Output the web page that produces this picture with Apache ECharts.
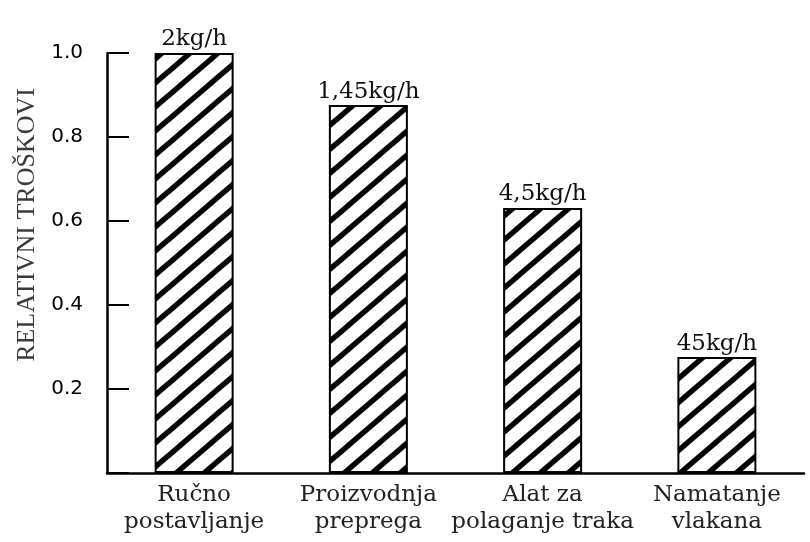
<!DOCTYPE html>
<html>
<head>
<meta charset="utf-8">
<script src="https://cdn.jsdelivr.net/npm/echarts@6/dist/echarts.min.js"></script>
<style>
html,body{margin:0;padding:0;background:#fff;}
#chart{width:810px;height:542px;}
</style>
</head>
<body>
<div id="chart"></div>
<script>
var categories = ['Ručno\npostavljanje', 'Proizvodnja\npreprega', 'Alat za\npolaganje traka', 'Namatanje\nvlakana'];
var values = [1.0, 0.876, 0.631, 0.276];
var barLabels = ['2kg/h', '1,45kg/h', '4,5kg/h', '45kg/h'];
var yTicks = [0, 0.2, 0.4, 0.6, 0.8, 1.0];

function hatch() {
  var W = 28, H = 24;
  var c = document.createElement('canvas');
  c.width = W; c.height = H;
  var g = c.getContext('2d');
  g.fillStyle = '#fff';
  g.fillRect(0, 0, W, H);
  g.strokeStyle = '#000';
  g.lineWidth = 5.5;
  for (var k = -1; k <= 1; k++) {
    g.beginPath();
    g.moveTo(-W, 2 * H + k * H);
    g.lineTo(2 * W, -H + k * H);
    g.stroke();
  }
  return c;
}

var chart = echarts.init(document.getElementById('chart'), null, {renderer: 'canvas'});
chart.setOption({
  backgroundColor: '#fff',
  animation: false,
  grid: {left: 107, right: 6, top: 53, bottom: 69},
  xAxis: {
    type: 'category',
    data: categories,
    axisLine: {lineStyle: {color: '#000', width: 2.5}},
    axisTick: {show: false},
    axisLabel: {
      interval: 0, margin: 9,
      fontFamily: 'DejaVu Serif', fontSize: 23, lineHeight: 27, color: '#222'
    }
  },
  yAxis: {
    type: 'value',
    min: yTicks[0], max: yTicks[yTicks.length - 1], interval: 0.2,
    name: 'RELATIVNI TROŠKOVI',
    nameLocation: 'middle', nameRotate: 90, nameGap: 67,
    nameTextStyle: {fontFamily: 'Liberation Serif', fontSize: 26, color: '#3a3a3a', padding: [0, 0, 0, 76]},
    splitLine: {show: false},
    axisLine: {show: true, lineStyle: {color: '#000', width: 2.5}},
    axisTick: {show: true, inside: true, length: 22, lineStyle: {color: '#000', width: 2}},
    axisLabel: {
      margin: 24, fontFamily: 'DejaVu Sans', fontSize: 20, color: '#000',
      formatter: function (v) { return v === 0 ? '' : v.toFixed(1); }
    }
  },
  series: [{
    type: 'bar',
    data: values,
    barWidth: 79,
    itemStyle: {color: {image: hatch(), repeat: 'repeat'}, borderColor: '#000', borderWidth: 2},
    label: {
      show: true, position: 'top', distance: 2,
      fontFamily: 'DejaVu Serif', fontSize: 23, color: '#111',
      formatter: function (p) { return barLabels[p.dataIndex]; }
    }
  }]
});
</script>
</body>
</html>
